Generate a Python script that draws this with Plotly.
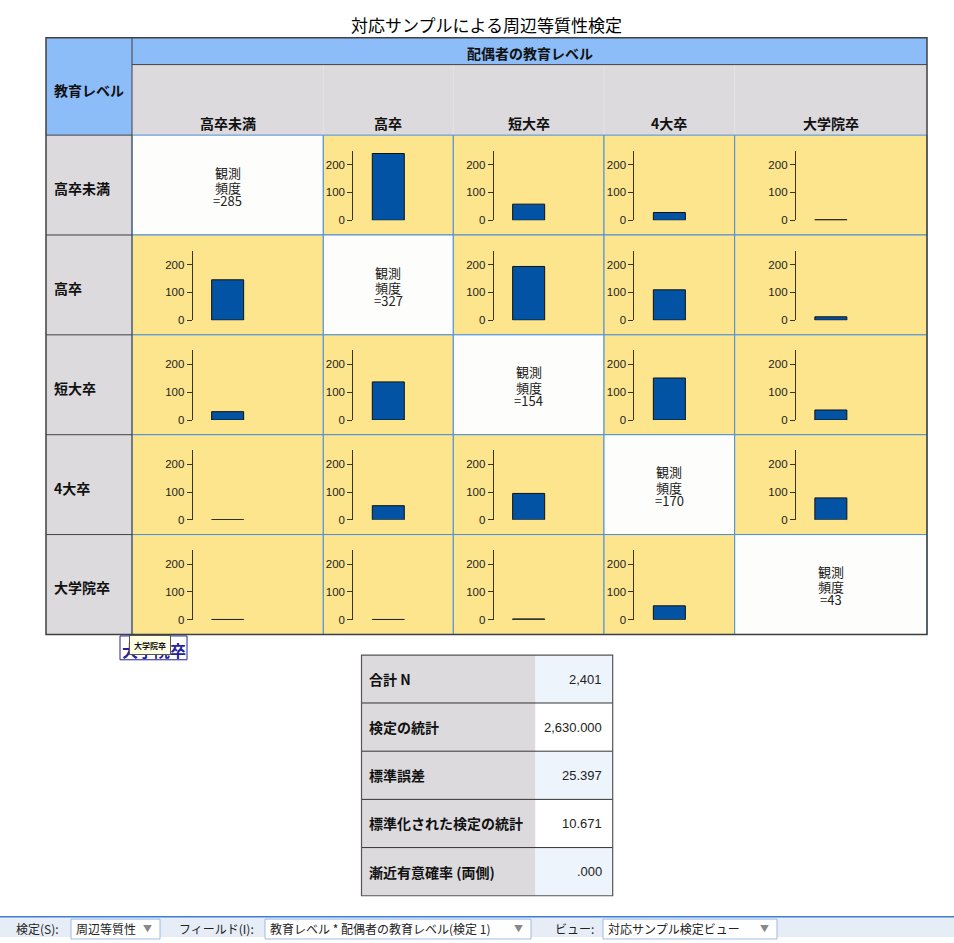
import plotly.graph_objects as go

# --- data -------------------------------------------------------------
title = "対応サンプルによる周辺等質性検定"
row_title = "教育レベル"
col_title = "配偶者の教育レベル"
categories = ["高卒未満", "高卒", "短大卒", "4大卒", "大学院卒"]

# observed counts: rows = 教育レベル, columns = 配偶者の教育レベル
counts_row1 = [285, 240, 58, 28, 2]
counts_row2 = [145, 327, 193, 109, 12]
counts_row3 = [30, 137, 154, 151, 36]
counts_row4 = [1, 51, 95, 170, 79]
counts_row5 = [1, 1, 3, 50, 43]
counts = [counts_row1, counts_row2, counts_row3, counts_row4, counts_row5]

y_ticks = [0, 100, 200]
y_max = 250

stat_labels = ["合計 N", "検定の統計", "標準誤差", "標準化された検定の統計", "漸近有意確率 (両側)"]
stat_values = ["2,401", "2,630.000", "25.397", "10.671", ".000"]

toolbar_labels = ["検定(S):", "フィールド(I):", "ビュー:"]
toolbar_choices = ["周辺等質性", "教育レベル * 配偶者の教育レベル(検定 1)", "対応サンプル検定ビュー"]

# --- page geometry (pixels of the screenshot) ----------------------------
W, H = 954, 943


def px(x):
    return x / W


def py(y):
    return 1 - y / H


BLUE_HEAD = "#8DBDF8"
GRAY = "#DCDADD"
YELLOW = "#FCE58D"
WHITE = "#FDFDFB"
CELL_LINE = "#4A8FD8"
DARK = "#404040"
AXIS = "#3F3418"
CJK = "Noto Sans CJK JP"

col_edges = [132, 323.3, 453.3, 604, 734.7, 927]
row_edges = [136, 236.5, 337, 437.5, 538, 638.5]

shapes = []
annotations = []


def rect(x0, y0, x1, y1, fill=None, line=None, lw=1, layer="below"):
    shapes.append(dict(type="rect", xref="paper", yref="paper",
                       x0=px(x0), x1=px(x1), y0=py(y1), y1=py(y0),
                       fillcolor=fill or "rgba(0,0,0,0)",
                       line=dict(color=line or "rgba(0,0,0,0)", width=lw if line else 0),
                       layer=layer))


def seg(x0, y0, x1, y1, color, lw=1, layer="below"):
    shapes.append(dict(type="line", xref="paper", yref="paper",
                       x0=px(x0), x1=px(x1), y0=py(y0), y1=py(y1),
                       line=dict(color=color, width=lw), layer=layer))


def text(x, y, s, size=13, color="#111", xanchor="center", family=CJK, **kw):
    annotations.append(dict(xref="paper", yref="paper", x=px(x), y=py(y), text=s,
                            showarrow=False, xanchor=xanchor, yanchor="middle",
                            font=dict(family=family, size=size, color=color), **kw))


# --- main matrix ----------------------------------------------------------
text(486.5, 25, title, size=17, color="#000")

rect(46, 38, 132, 136, fill=BLUE_HEAD)
rect(132, 38, 927, 65, fill=BLUE_HEAD)
rect(132, 65, 927, 136, fill=GRAY)
for c in range(1, 5):
    seg(col_edges[c], 65, col_edges[c], 136, "#E5E3E6")
text(52, 90.5, "<b>" + row_title + "</b>", size=14, xanchor="left")
text(529.5, 53, "<b>" + col_title + "</b>", size=14)
for c, name in enumerate(categories):
    text((col_edges[c] + col_edges[c + 1]) / 2, 124, "<b>" + name + "</b>", size=14)

for r, name in enumerate(categories):
    rt, rb = row_edges[r], row_edges[r + 1]
    rect(46, rt, 132, rb, fill=GRAY)
    text(52, (rt + rb) / 2 + 3, "<b>" + name + "</b>", size=14, xanchor="left")
    for c in range(5):
        fill = WHITE if r == c else YELLOW
        rect(col_edges[c], rt, col_edges[c + 1], rb, fill=fill, line=CELL_LINE)

for y in row_edges[:-1]:
    seg(46, y, 132, y, DARK)
seg(132, 65, 927, 65, DARK)
seg(132, 38, 132, 638.5, DARK)
rect(46, 38, 927, 638.5, line=DARK, lw=1.5, layer="above")

fig = go.Figure()
layout_axes = {}
n = 0
for r in range(5):
    rt = row_edges[r]
    for c in range(5):
        cx = (col_edges[c] + col_edges[c + 1]) / 2
        v = counts[r][c]
        if r == c:
            cy = (rt + row_edges[r + 1]) / 2
            text(cx, cy - 13, "観測", size=13, color="#222")
            text(cx, cy + 2.5, "頻度", size=13, color="#222")
            text(cx, cy + 15.5, "=" + str(v), size=13, color="#222")
            continue
        n += 1
        xa = "x" if n == 1 else "x%d" % n
        ya = "y" if n == 1 else "y%d" % n
        fig.add_trace(go.Bar(x=[0.5], y=[v], width=32 / 70, xaxis=xa, yaxis=ya,
                             marker=dict(color="#0253A3", line=dict(color="#111", width=1)),
                             hoverinfo="skip", showlegend=False))
        layout_axes["xaxis" if n == 1 else "xaxis%d" % n] = dict(
            domain=[px(cx - 35), px(cx + 35)], range=[0, 1], anchor=ya,
            visible=False, fixedrange=True)
        layout_axes["yaxis" if n == 1 else "yaxis%d" % n] = dict(
            domain=[py(rt + 85.7), py(rt + 15.7)], range=[0, y_max], anchor=xa,
            tickvals=y_ticks, ticks="outside", ticklen=5, tickwidth=1, tickcolor=AXIS,
            showline=True, linecolor=AXIS, linewidth=1, showgrid=False, zeroline=False,
            tickfont=dict(family="Liberation Sans", size=11.5, color="#222"),
            fixedrange=True)

# stray tooltip left over in the viewer
rect(120, 640, 187, 664, fill="white", line="#22229A", layer="above")
text(153.5, 654, "<b>大学院卒</b>", size=16, color="#22229A")
text(150, 649, "<b>大学院卒</b>", size=8, color="#111",
     bgcolor="#FFFFE3", bordercolor="#555", borderwidth=1, width=38, height=16)

# --- statistics table -----------------------------------------------------
st_edges = [659.3, 707.5, 756, 804.5, 853, 901.5]
for i, (lab, val) in enumerate(zip(stat_labels, stat_values)):
    t, b = st_edges[i], st_edges[i + 1]
    rect(361.5, t, 535.5, b, fill=GRAY)
    rect(535.5, t, 612.7, b, fill="#EEF4FC" if i % 2 == 0 else "#FFFFFF")
    text(366.5, (t + b) / 2, "<b>" + lab + "</b>", size=14, xanchor="left")
    text(604, (t + b) / 2, val, size=13, color="#222", xanchor="right",
         family="Liberation Sans")
    if i > 0:
        seg(361.5, t, 612.7, t, "#333")
rect(361.5, 659.3, 612.7, 901.5, line="#555", lw=1.2, layer="above")

# --- toolbar --------------------------------------------------------------
rect(0, 923, 954, 943, fill="#E6EDF6")
seg(0, 922.7, 954, 922.7, "#3C7FD6", lw=1.5)
label_x = [14, 177, 553]
box_x = [(71, 160), (265, 531), (603, 777)]
for lx, (b0, b1), lab, choice in zip(label_x, box_x, toolbar_labels, toolbar_choices):
    text(lx, 934, lab, size=12, color="#222", xanchor="left")
    rect(b0, 925, b1, 945, fill="white", line="#9DBBE3")
    text(b0 + 3, 934, choice, size=12, color="#222", xanchor="left")
    text(b1 - 13, 934, "▼", size=9, color="#888")

fig.update_layout(
    width=W, height=H, margin=dict(l=0, r=0, t=0, b=0),
    paper_bgcolor="white", plot_bgcolor="rgba(0,0,0,0)",
    showlegend=False, shapes=shapes, annotations=annotations,
    font=dict(family=CJK), **layout_axes)

fig.write_html("out.html", config={"displayModeBar": False},
               post_script="document.body.style.margin='0';")
